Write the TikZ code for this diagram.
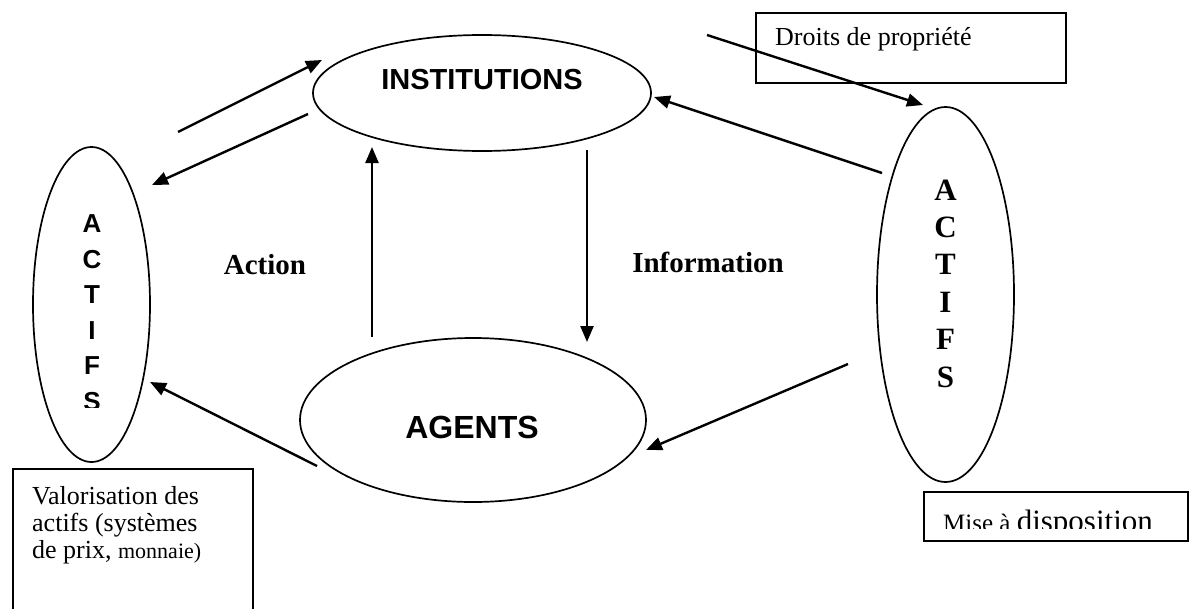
\documentclass[tikz,border=0pt]{standalone}
\usepackage{fontspec}
\setmainfont{Liberation Serif}
\newfontfamily\arialfont{Liberation Sans}
\usetikzlibrary{shapes.geometric, arrows.meta, positioning}
\tikzset{blob/.style={draw, ellipse, line width=1.7pt, inner sep=0pt}}
\tikzset{flow/.style={-{Triangle[length=16pt,width=13pt]}, line width=2.4pt}}
\tikzset{note/.style={draw, line width=1.6pt, inner sep=0pt, anchor=north west}}
\tikzset{bigsans/.style={inner sep=0pt, font=\arialfont\bfseries\fontsize{29}{30}\selectfont}}
\tikzset{letters/.style={inner sep=0pt, align=center}}
\tikzset{boldserif/.style={inner sep=0pt, font=\bfseries\fontsize{29}{30}\selectfont}}

\begin{document}
\begin{tikzpicture}[x=1pt, y=-1pt]
      \clip (0,0) rectangle (1193,608);

      % the four ellipses
      \node[blob, minimum width=338pt, minimum height=116pt] (inst) at (482,93) {};
      \node[blob, minimum width=346pt, minimum height=164pt] (agents) at (473,420) {};
      \node[blob, minimum width=117pt, minimum height=315pt] (actL) at (91.5,304.5) {};
      \node[blob, minimum width=137pt, minimum height=375pt] (actR) at (945.5,294.5) {};

      \node[bigsans] (instlbl) at (482,80) {INSTITUTIONS};
      \node[bigsans, font=\arialfont\bfseries\fontsize{32}{33}\selectfont] (agentslbl) at (472,427) {AGENTS};

      \node[letters, font=\bfseries\fontsize{31}{37.4}\selectfont] (actRlbl) at (945.5,283.5)
        {A\\C\\T\\I\\F\\S};
      \begin{scope}
        \clip (30,150) rectangle (160,407);
        \node[letters, font=\arialfont\bfseries\fontsize{26}{35.5}\selectfont] (actLlbl) at (92,312.75)
          {A\\C\\T\\I\\F\\S};
      \end{scope}

      \node[boldserif] (action) at (265,265) {Action};
      \node[boldserif] (info) at (708,262) {Information};

      % boxes
      \node[note, minimum width=310pt, minimum height=70pt] (droits) at (755,12) {};
      \node[anchor=base west, inner sep=0pt, font=\fontsize{26}{27}\selectfont] (droitslbl) at (775,45.5)
        {Droits de propriété};

      \node[note, minimum width=240pt, minimum height=170pt] (valo) at (12,468) {};
      \node[anchor=north west, align=left, inner sep=0pt, font=\fontsize{26}{27}\selectfont] (valolbl) at (32,486)
        {Valorisation des\\actifs (systèmes\\de prix, {\fontsize{22}{27}\selectfont monnaie)}};

      \node[note, minimum width=264pt, minimum height=49pt] (mise) at (923,491) {};
      \begin{scope}
        \clip (924,492) rectangle (1186,528);
        \node[anchor=base west, inner sep=0pt, font=\fontsize{25}{27}\selectfont] (miselbl) at (943,531)
          {Mise à {\fontsize{31}{33}\selectfont disposition}};
      \end{scope}

      % arrow ends
      \coordinate (actL-out) at (178,132);  \coordinate (inst-in) at (322,60);
      \coordinate (inst-out) at (308,114);  \coordinate (actL-in) at (152,185);
      \coordinate (agents-up) at (372,337); \coordinate (inst-in2) at (372,147);
      \coordinate (inst-down) at (587,150); \coordinate (agents-in) at (587,342);
      \coordinate (actR-out) at (882,173);  \coordinate (inst-in3) at (654,97);
      \coordinate (droits-out) at (707,35); \coordinate (actR-in) at (923,105);
      \coordinate (actR-out2) at (848,364); \coordinate (agents-in2) at (646,450);
      \coordinate (agents-out) at (317,466); \coordinate (actL-in2) at (150,382);

      \draw[flow] (actL-out) -- (inst-in);
      \draw[flow] (inst-out) -- (actL-in);
      \draw[flow] (agents-up) -- (inst-in2);
      \draw[flow] (inst-down) -- (agents-in);
      \draw[flow] (actR-out) -- (inst-in3);
      \draw[flow] (droits-out) -- (actR-in);
      \draw[flow] (actR-out2) -- (agents-in2);
      \draw[flow] (agents-out) -- (actL-in2);

\end{tikzpicture}
\end{document}
